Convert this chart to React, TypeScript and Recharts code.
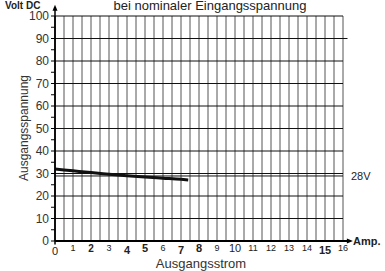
import React from "react";
import {
  LineChart,
  Line,
  XAxis,
  YAxis,
  ReferenceLine,
  ReferenceDot,
  Customized,
} from "recharts";

// Data
const currentA = [0, 1, 2, 3, 4, 5, 6, 7, 7.4];
const voltageV = [32, 31.2, 30.4, 29.7, 29.0, 28.4, 27.9, 27.4, 27.1];
const xTicks = [0, 1, 2, 3, 4, 5, 6, 7, 8, 9, 10, 11, 12, 13, 14, 15, 16];
const yTicks = [0, 5, 10, 15, 20, 25, 30, 35, 40, 45, 50, 55, 60, 65, 70, 75, 80, 85, 90, 95, 100];
const yGrid = [10, 20, 30, 40, 50, 60, 70, 80, 90, 100];
const xGrid = [0.5, 1, 1.5, 2, 2.5, 3, 3.5, 4, 4.5, 5, 5.5, 6, 6.5, 7, 7.5, 8, 8.5, 9, 9.5, 10, 10.5, 11, 11.5, 12, 12.5, 13, 13.5, 14, 14.5, 15, 15.5, 16];
const nominalV = 28.9;
const nominalLabel = "28V";
const title = "bei nominaler Eingangsspannung";
const yUnit = "Volt DC";
const xUnit = "Amp.";
const yTitle = "Ausgangsspannung";
const xTitle = "Ausgangsstrom";

const data = currentA.map((a, i) => ({ a, v: voltageV[i] }));

const FONT = "'Liberation Sans', Arial, sans-serif";

// styles for x tick labels (emphasised ones larger/bold)
const tickStyle: Record<number, { size: number; weight: string; dy: number }> = {
  0: { size: 11, weight: "normal", dy: 6 },
  2: { size: 10, weight: "bold", dy: 3 },
  4: { size: 11, weight: "bold", dy: 5 },
  5: { size: 11, weight: "bold", dy: 3 },
  7: { size: 11, weight: "bold", dy: 5 },
  8: { size: 11, weight: "bold", dy: 3 },
  10: { size: 11, weight: "normal", dy: 3 },
  15: { size: 11, weight: "bold", dy: 5 },
};

const XTick = (props: any) => {
  const { x, y, payload } = props;
  const st = tickStyle[payload.value] || { size: 9, weight: "normal", dy: 2 };
  return (
    <text
      x={x}
      y={y + st.dy}
      textAnchor="middle"
      fontSize={st.size}
      fontWeight={st.weight}
      fill="#222"
      fontFamily={FONT}
    >
      {payload.value}
    </text>
  );
};

const YTick = (props: any) => {
  const { x, y, payload } = props;
  if (payload.value % 10 !== 0) return null;
  return (
    <text
      x={x}
      y={y}
      dy={4}
      textAnchor="end"
      fontSize={12}
      fill="#333"
      fontFamily={FONT}
    >
      {payload.value}
    </text>
  );
};

const Arrow = (dir: "up" | "right") => (props: any) => {
  const { cx, cy } = props;
  if (dir === "up") {
    return <path d={`M${cx - 2.5},${cy + 6} L${cx},${cy} L${cx + 2.5},${cy + 6} Z`} fill="#000" />;
  }
  return <path d={`M${cx - 6},${cy - 2.5} L${cx},${cy} L${cx - 6},${cy + 2.5} Z`} fill="#000" />;
};

const Texts = () => (
  <g fontFamily={FONT}>
    <text x={210} y={10} textAnchor="middle" fontSize={13} fill="#222">
      {title}
    </text>
    <text x={5} y={9} fontSize={10} fontWeight="bold" fill="#222">
      {yUnit}
    </text>
    <text x={353} y={245} fontSize={11} fontWeight="bold" fill="#222">
      {xUnit}
    </text>
    <text
      x={28}
      y={128}
      textAnchor="middle"
      fontSize={12}
      fill="#333"
      transform="rotate(-90 28 128)"
    >
      {yTitle}
    </text>
    <text x={201} y={268} textAnchor="middle" fontSize={13} fill="#333">
      {xTitle}
    </text>
  </g>
);

export default function App() {
  return (
    <div style={{ position: "absolute", left: 0, top: 0, background: "#fff" }}>
      <LineChart
        width={385}
        height={271}
        data={data}
        margin={{ top: 16, right: 42, bottom: 0, left: 0 }}
      >
        <XAxis
          dataKey="a"
          type="number"
          domain={[0, 16]}
          ticks={xTicks}
          axisLine={false}
          tickLine={false}
          height={30}
          tick={<XTick />}
          interval={0}
          allowDataOverflow
        />
        <YAxis
          type="number"
          domain={[0, 100]}
          ticks={yTicks}
          width={55}
          interval={0}
          axisLine={{ stroke: "#000", strokeWidth: 1.5 }}
          tickLine={{ stroke: "#000" }}
          tickSize={4}
          tick={<YTick />}
        />
        {xGrid.map((g) => (
          <ReferenceLine
            key={"vx" + g}
            segment={[
              { x: g, y: 0 },
              { x: g, y: 100 },
            ]}
            stroke="#555"
            strokeWidth={1}
            ifOverflow="visible"
          />
        ))}
        {yGrid.map((g) => (
          <ReferenceLine
            key={"hy" + g}
            segment={[
              { x: 0, y: g },
              { x: g === 90 ? 16.25 : 16, y: g },
            ]}
            stroke="#111"
            strokeWidth={1}
            ifOverflow="visible"
          />
        ))}
        <ReferenceLine
          segment={[
            { x: 0, y: nominalV },
            { x: 16, y: nominalV },
          ]}
          stroke="#111"
          strokeWidth={1}
          ifOverflow="visible"
          label={{
            value: nominalLabel,
            position: "right",
            fontSize: 11,
            fill: "#222",
            fontFamily: FONT,
            offset: 8,
          }}
        />
        <ReferenceLine
          segment={[
            { x: 0, y: 0 },
            { x: 16.35, y: 0 },
          ]}
          stroke="#000"
          strokeWidth={2.2}
          ifOverflow="visible"
        />
        <ReferenceLine
          segment={[
            { x: 0, y: -1.5 },
            { x: 0, y: 104 },
          ]}
          stroke="#000"
          strokeWidth={1.5}
          ifOverflow="visible"
        />
        <ReferenceDot x={0} y={105} ifOverflow="visible" shape={Arrow("up")} />
        <ReferenceDot x={16.55} y={0} ifOverflow="visible" shape={Arrow("right")} />
        <Line
          type="monotone"
          dataKey="v"
          stroke="#111"
          strokeWidth={3}
          dot={false}
          isAnimationActive={false}
        />
        <Customized component={Texts} />
      </LineChart>
    </div>
  );
}
